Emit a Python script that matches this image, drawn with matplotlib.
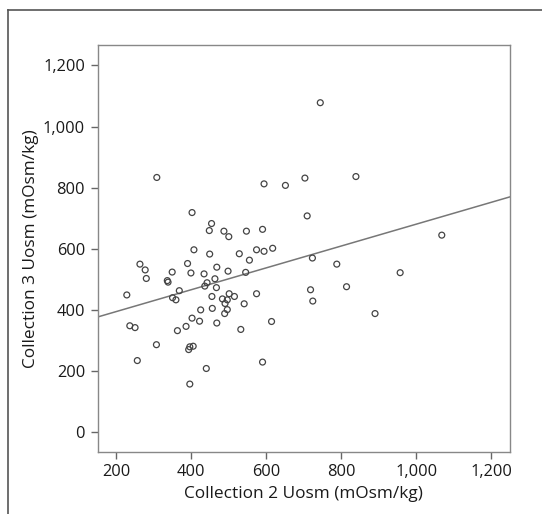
import numpy as np
import matplotlib.pyplot as plt
from matplotlib.lines import Line2D
from matplotlib.ticker import FuncFormatter

plt.rcParams['font.family'] = ['Open Sans', 'DejaVu Sans']

# Collection 2 vs Collection 3 urine osmolality (mOsm/kg)
coll2 = [402, 709, 454, 448, 487, 547, 590, 500, 1068, 407, 617, 574, 594, 528, 449,
         555, 723, 263, 390, 277, 349, 280, 468, 399, 434, 498, 545, 788, 957, 463,
         336, 338, 442, 436, 467, 228, 368, 350, 359, 455, 483, 496, 501, 515, 490,
         496, 489, 456, 425, 422, 402, 386, 363, 468, 541, 574, 532, 614, 718, 724,
         814, 890, 236, 250, 307, 256, 393, 396, 405, 440, 396, 590,
         744, 308, 594, 651, 703, 839]
coll3 = [718, 707, 682, 659, 657, 657, 663, 639, 644, 596, 601, 596, 591, 583, 582,
         562, 569, 549, 551, 530, 523, 502, 539, 520, 517, 526, 522, 549, 521, 501,
         495, 490, 488, 477, 472, 448, 462, 439, 432, 443, 435, 432, 452, 443, 420,
         400, 387, 404, 399, 362, 372, 345, 331, 356, 419, 452, 335, 361, 465, 428,
         475, 387, 347, 341, 285, 233, 269, 278, 280, 207, 156, 228,
         1078, 833, 812, 807, 831, 836]

# fitted regression line as drawn in the figure
fit_slope = 0.358
fit_intercept = 322

xticks = [200, 400, 600, 800, 1000, 1200]
yticks = [0, 200, 400, 600, 800, 1000, 1200]

fig = plt.figure(figsize=(5.42, 5.14), dpi=100)
ax = fig.add_axes([0.180, 0.121, 0.761, 0.792])

ax.scatter(coll2, coll3, s=18, facecolors='none', edgecolors='#444444', linewidths=0.9, zorder=3)

xl = np.array([150, 1250])
ax.plot(xl, fit_intercept + fit_slope * xl, color='#777777', linewidth=1.1, zorder=2)

ax.set_xlim(150, 1250)
ax.set_ylim(-66, 1268)
ax.set_xticks(xticks)
ax.set_yticks(yticks)
fmt = FuncFormatter(lambda v, p: f'{int(v):,}')
ax.xaxis.set_major_formatter(fmt)
ax.yaxis.set_major_formatter(fmt)

for s in ax.spines.values():
    s.set_color('#888888')
    s.set_linewidth(1.0)
ax.tick_params(direction='out', length=5, width=1, color='#666666', labelsize=11.8,
               labelcolor='#1a1a1a', pad=4)

ax.set_xlabel('Collection 2 Uosm (mOsm/kg)', fontsize=12.4, color='#1a1a1a', labelpad=4)
ax.set_ylabel('Collection 3 Uosm (mOsm/kg)', fontsize=12.4, color='#1a1a1a', labelpad=3)

# frame lines around the figure panel (top and left only)
fig.add_artist(Line2D([0.014, 1.0], [0.980, 0.980], color='#555555', linewidth=1.2))
fig.add_artist(Line2D([0.014, 0.014], [0.0, 0.980], color='#555555', linewidth=1.2))

fig.savefig('out.png', dpi=100)
